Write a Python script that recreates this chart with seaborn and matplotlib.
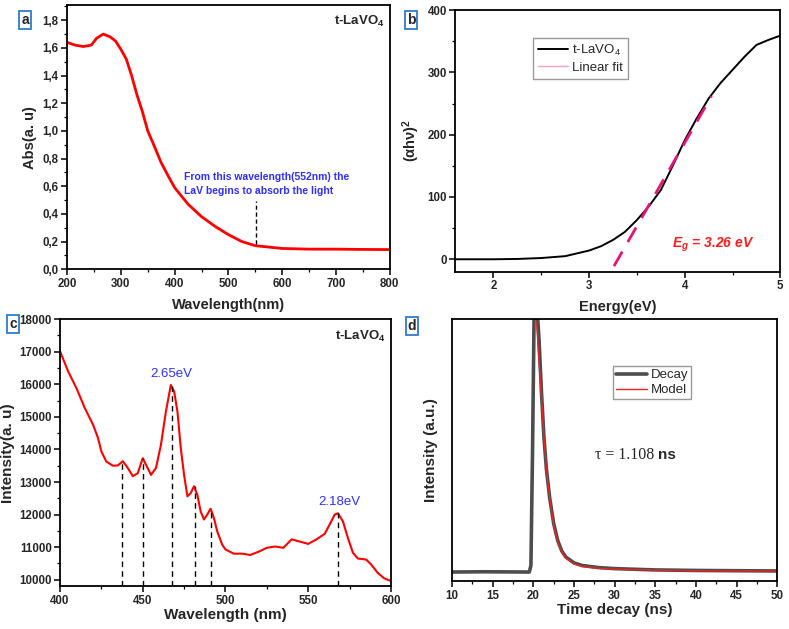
import matplotlib
matplotlib.use("Agg")
import matplotlib.pyplot as plt
import seaborn as sns
from matplotlib.lines import Line2D
from matplotlib.ticker import MultipleLocator

# ---- panel a: UV-vis absorbance ----
abs_nm = [200, 215, 230, 245, 255, 267, 280, 290, 300, 310, 320, 330, 340, 350,
          360, 375, 390, 400, 425, 450, 475, 500, 525, 550, 575, 600, 650, 700, 750, 800]
abs_val = [1.64, 1.62, 1.61, 1.62, 1.67, 1.70, 1.68, 1.65, 1.59, 1.52, 1.40, 1.26,
           1.14, 1.00, 0.91, 0.77, 0.66, 0.59, 0.47, 0.38, 0.31, 0.25, 0.20, 0.17,
           0.16, 0.15, 0.145, 0.145, 0.143, 0.142]
abs_yticks = [0.0, 0.2, 0.4, 0.6, 0.8, 1.0, 1.2, 1.4, 1.6, 1.8]
abs_ylabels = ["0,0", "0,2", "0,4", "0,6", "0,8", "1,0", "1,2", "1,4", "1,6", "1,8"]
onset_nm = 552
onset_range = [0.18, 0.49]

# ---- panel b: Tauc plot ----
tauc_ev = [1.6, 2.0, 2.25, 2.5, 2.75, 3.0, 3.125, 3.25, 3.375, 3.5, 3.625, 3.75,
           3.875, 4.0, 4.125, 4.25, 4.375, 4.5, 4.625, 4.75, 4.875, 5.0]
tauc_val = [0, 0, 0.5, 2, 5, 14, 21, 31, 44, 63, 85, 111, 150, 191, 226, 258,
            283, 304, 325, 344, 352, 359]
fit_ev = [3.26, 4.28]
fit_val = [-11, 262]

# ---- panel c: photoluminescence ----
pl_nm = [400, 405, 410, 415, 420, 423, 425, 428, 432, 435, 438, 441, 444, 447, 450,
         453, 455, 458, 461, 464, 467, 469, 471, 473, 475, 477, 479, 481, 483, 485,
         487, 489, 491, 493, 495, 498, 500, 505, 510, 515, 520, 525, 530, 535, 540,
         545, 550, 555, 560, 563, 566, 568, 571, 574, 577, 580, 585, 588, 592, 596, 600]
pl_int = [17020, 16390, 15880, 15270, 14760, 14350, 13940, 13630, 13500, 13510,
          13640, 13430, 13180, 13270, 13730, 13430, 13220, 13430, 14140, 15160,
          15980, 15780, 15160, 14040, 13220, 12560, 12660, 12870, 12610, 12100,
          11850, 12000, 12180, 11900, 11490, 11080, 10930, 10800, 10800, 10760,
          10860, 10980, 11020, 10980, 11240, 11170, 11100, 11240, 11410, 11700,
          12000, 12040, 11790, 11280, 10830, 10650, 10620, 10470, 10210, 10040, 9960]
peak_nm = [437.5, 450, 467.5, 481.5, 491, 568]
peak_int = [13650, 13730, 15980, 12870, 12180, 12040]

# ---- panel d: PL decay ----
decay_t = [10, 14, 19.5, 19.7, 19.9, 20.1, 20.3, 20.5, 20.7, 21.0, 21.3, 21.6, 22.0,
           22.5, 23.0, 23.5, 24.0, 25.0, 26.0, 28.0, 30.0, 35.0, 40.0, 45.0, 50.0]
decay_int = [0.035, 0.036, 0.035, 0.06, 0.5, 1.05, 1.12, 1.02, 0.92, 0.72, 0.55,
             0.43, 0.32, 0.22, 0.155, 0.115, 0.092, 0.07, 0.06, 0.052, 0.048,
             0.043, 0.041, 0.040, 0.039]
model_t = [20.4, 20.6, 20.8, 21.0, 21.3, 21.6, 22.0, 22.5, 23.0, 23.5, 24.0, 25.0,
           26.0, 28.0, 30.0, 35.0, 40.0, 45.0, 50.0]
model_int = [0.99, 0.88, 0.79, 0.70, 0.55, 0.43, 0.32, 0.215, 0.15, 0.11, 0.088,
             0.066, 0.056, 0.049, 0.046, 0.042, 0.040, 0.039, 0.038]

sns.set_theme(style="ticks")
plt.rcParams["font.family"] = ["Liberation Sans", "DejaVu Sans"]
plt.rcParams["mathtext.fontset"] = "custom"
plt.rcParams["mathtext.default"] = "regular"
plt.rcParams["xtick.direction"] = "out"
plt.rcParams["ytick.direction"] = "out"

BLUE = "#2f2fff"
fig = plt.figure(figsize=(7.89, 6.29), dpi=100)
ax_a = fig.add_axes([0.085, 0.572, 0.409, 0.420])
ax_b = fig.add_axes([0.577, 0.568, 0.412, 0.416])
ax_c = fig.add_axes([0.076, 0.068, 0.4195, 0.4245])
ax_d = fig.add_axes([0.573, 0.076, 0.412, 0.4165])


def style(ax):
    for s in ax.spines.values():
        s.set_color("black")
        s.set_linewidth(1.3)
    ax.tick_params(which="major", length=4, width=1.1, color="black",
                   labelsize=8.3, pad=2)
    ax.tick_params(which="minor", length=2.2, width=0.9, color="black")
    for lab in ax.get_xticklabels() + ax.get_yticklabels():
        lab.set_fontweight("bold")


# panel a
sns.lineplot(x=abs_nm, y=abs_val, ax=ax_a, color="red", lw=2)
ax_a.vlines(onset_nm, onset_range[0], onset_range[1], colors="black",
            linestyles=(0, (3, 2)), lw=1)
ax_a.set_xlim(200, 800)
ax_a.set_ylim(0, 1.91)
ax_a.set_yticks(abs_yticks)
ax_a.set_yticklabels(abs_ylabels)
ax_a.xaxis.set_minor_locator(MultipleLocator(50))
ax_a.yaxis.set_minor_locator(MultipleLocator(0.1))
ax_a.set_xlabel("Wavelength(nm)", fontsize=10.5, fontweight="bold", labelpad=6)
ax_a.set_ylabel("Abs(a. u)", fontsize=10.5, fontweight="bold", labelpad=4)
ax_a.text(418, 0.70, "From this wavelength(552nm) the\nLaV begins to absorb the light",
          color=BLUE, fontsize=7.5, fontweight="bold", va="top", linespacing=1.5)
ax_a.text(0.985, 0.965, "t-LaVO$_4$", transform=ax_a.transAxes, ha="right", va="top",
          fontsize=9.5, fontweight="bold")
style(ax_a)

# panel b
sns.lineplot(x=tauc_ev, y=tauc_val, ax=ax_b, color="black", lw=1.4)
sns.lineplot(x=fit_ev, y=fit_val, ax=ax_b, color="#e8137a", lw=2,
             linestyle=(0, (6, 4)))
ax_b.set_xlim(1.6, 5)
ax_b.set_ylim(-20, 400)
ax_b.set_xticks([2, 3, 4, 5])
ax_b.set_yticks([0, 100, 200, 300, 400])
ax_b.xaxis.set_minor_locator(MultipleLocator(0.5))
ax_b.yaxis.set_minor_locator(MultipleLocator(50))
ax_b.set_xlabel("Energy(eV)", fontsize=10.5, fontweight="bold", labelpad=6)
ax_b.set_ylabel("(αhν)$^2$", fontsize=10.5, fontweight="bold", labelpad=4)
ax_b.text(4.3, 23, "$E_g$ = 3.26 eV", color="#ff1a1a", fontsize=10,
          fontweight="bold", style="italic", ha="center", va="center")
handles_b = [Line2D([], [], color="black", lw=1.4),
             Line2D([], [], color="#f5a3bb", lw=1)]
ax_b.legend(handles_b, ["t-LaVO$_4$", "Linear fit"], loc="upper left",
            bbox_to_anchor=(0.24, 0.893), fontsize=9.5, frameon=True,
            fancybox=False, edgecolor="#9a9a9a", framealpha=1, handlelength=2.3,
            borderpad=0.35, labelspacing=0.3, handletextpad=0.3, borderaxespad=0)
style(ax_b)

# panel c
sns.lineplot(x=pl_nm, y=pl_int, ax=ax_c, color="red", lw=1.5)
ax_c.vlines(peak_nm, 9800, peak_int, colors="black", linestyles=(0, (4, 3)), lw=1)
ax_c.set_xlim(400, 600)
ax_c.set_ylim(9800, 18000)
ax_c.set_yticks(range(10000, 18001, 1000))
ax_c.set_xticks(range(400, 601, 50))
ax_c.xaxis.set_minor_locator(MultipleLocator(25))
ax_c.yaxis.set_minor_locator(MultipleLocator(500))
ax_c.set_xlabel("Wavelength (nm)", fontsize=11, fontweight="bold", labelpad=1)
ax_c.set_ylabel("Intensity(a. u)", fontsize=11, fontweight="bold", labelpad=3)
ax_c.text(peak_nm[2], 16130, "2.65eV", color=BLUE, fontsize=9.5, ha="center",
          va="bottom")
ax_c.text(peak_nm[5] + 1, 12200, "2.18eV", color=BLUE, fontsize=9.5, ha="center",
          va="bottom")
ax_c.text(0.985, 0.965, "t-LaVO$_4$", transform=ax_c.transAxes, ha="right", va="top",
          fontsize=9.5, fontweight="bold")
style(ax_c)

# panel d
sns.lineplot(x=decay_t, y=decay_int, ax=ax_d, color="#4d4d4d", lw=2.6, label="Decay")
sns.lineplot(x=model_t, y=model_int, ax=ax_d, color="#ee2222", lw=1, label="Model")
ax_d.set_xlim(10, 50)
ax_d.set_ylim(0, 1.0)
ax_d.set_yticks([])
ax_d.set_xticks(range(10, 51, 5))
ax_d.xaxis.set_minor_locator(MultipleLocator(2.5))
ax_d.set_xlabel("Time decay (ns)", fontsize=11, fontweight="bold", labelpad=1)
ax_d.set_ylabel("Intensity (a.u.)", fontsize=11, fontweight="bold", labelpad=10)
ax_d.legend(loc="upper left", bbox_to_anchor=(0.495, 0.82), fontsize=9.5,
            frameon=True, fancybox=False, edgecolor="#9a9a9a", framealpha=1,
            handlelength=2.4, borderpad=0.2, labelspacing=0.2, handletextpad=0.3,
            borderaxespad=0)
ax_d.text(0.634, 0.48, "τ = 1.108 ", transform=ax_d.transAxes, ha="right",
          va="center", fontsize=11.5, family=["Liberation Serif", "DejaVu Serif"])
ax_d.text(0.634, 0.48, "ns", transform=ax_d.transAxes, ha="left", va="center",
          fontsize=11, fontweight="bold")
style(ax_d)

# panel letters
box = dict(boxstyle="square,pad=0.15", facecolor="white", edgecolor="#2e7bcf", lw=1.3)
for letter, px, py in [("a", 25, 20), ("b", 411, 20), ("c", 13, 324), ("d", 412, 326)]:
    fig.text(px / 789, 1 - py / 629, letter, fontsize=10, fontweight="bold",
             ha="center", va="center", bbox=box)

fig.savefig("out.png", dpi=100)
